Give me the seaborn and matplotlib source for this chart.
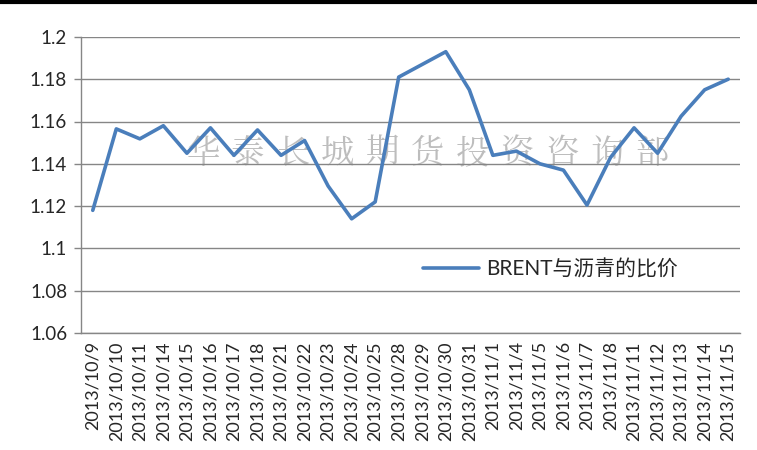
import numpy as np
import pandas as pd
import matplotlib
matplotlib.use('Agg')
import matplotlib.pyplot as plt
from matplotlib.lines import Line2D
import seaborn as sns

# data
dates = ['2013/10/9', '2013/10/10', '2013/10/11', '2013/10/14', '2013/10/15',
         '2013/10/16', '2013/10/17', '2013/10/18', '2013/10/21', '2013/10/22',
         '2013/10/23', '2013/10/24', '2013/10/25', '2013/10/28', '2013/10/29',
         '2013/10/30', '2013/10/31', '2013/11/1', '2013/11/4', '2013/11/5',
         '2013/11/6', '2013/11/7', '2013/11/8', '2013/11/11', '2013/11/12',
         '2013/11/13', '2013/11/14', '2013/11/15']
ratio = [1.118, 1.1565, 1.1518, 1.158, 1.145, 1.157, 1.144, 1.156, 1.144, 1.151,
         1.1295, 1.114, 1.122, 1.181, 1.187, 1.193, 1.175, 1.144, 1.146, 1.140,
         1.137, 1.1205, 1.143, 1.157, 1.145, 1.1625, 1.175, 1.180]
series_name = 'BRENT与沥青的比价'
watermark = '华泰长城期货投资咨询部'
yticks = [1.06, 1.08, 1.1, 1.12, 1.14, 1.16, 1.18, 1.2]

sns.set_style('white')
plt.rcParams['font.family'] = ['Lato', 'Noto Sans CJK SC', 'DejaVu Sans']

df = pd.DataFrame({'date': dates, 'ratio': ratio})

fig = plt.figure(figsize=(7.57, 4.5), dpi=100)
ax = fig.add_axes([0.107, 0.26, 0.8705, 0.658])

sns.lineplot(data=df, x='date', y='ratio', sort=False, color='#4A7EBB',
             linewidth=2.6, label=series_name, ax=ax)

ax.set_xlim(-0.5, len(dates) - 0.5)
ax.set_ylim(1.06, 1.2)
ax.set_yticks(yticks)
ax.set_yticklabels([f'{v:g}' for v in yticks], fontsize=13.5)
ax.set_xticks(range(len(dates)))
ax.set_xticklabels(dates, rotation=90, fontsize=13)
ax.set_xticks(np.arange(-0.5, len(dates)), minor=True)
ax.tick_params(axis='x', which='major', length=0, pad=6)
ax.tick_params(axis='x', which='minor', length=5, width=1, color='#868686', direction='out')
ax.tick_params(axis='y', length=5, width=1, color='#868686', direction='out', left=True, pad=5)
ax.set_xlabel('')
ax.set_ylabel('')

ax.grid(axis='y', color='#868686', linewidth=1)
ax.set_axisbelow(True)
for s in ['top', 'right']:
    ax.spines[s].set_visible(False)
ax.spines['left'].set_color('#868686')
ax.spines['bottom'].set_color('#868686')
ax.spines['left'].set_linewidth(1)
ax.spines['bottom'].set_linewidth(1)

# watermark, one glyph at a time
for i, ch in enumerate(watermark):
    ax.text(0.185 + i * 0.0681, 0.606, ch, transform=ax.transAxes, fontsize=24,
            color='#BDBDBD', ha='center', va='center',
            family=['Noto Serif CJK SC', 'Noto Sans CJK SC'], zorder=0)

leg = ax.legend(loc='center left', bbox_to_anchor=(0.49, 0.215), frameon=False,
                fontsize=15, handlelength=2.7, handletextpad=0.35)
for t in leg.get_texts():
    t.set_family(['Lato', 'Noto Sans CJK SC'])

fig.add_artist(Line2D([0, 1], [0.996, 0.996], color='black', linewidth=3,
                      transform=fig.transFigure))

fig.savefig('out.png', dpi=100)
